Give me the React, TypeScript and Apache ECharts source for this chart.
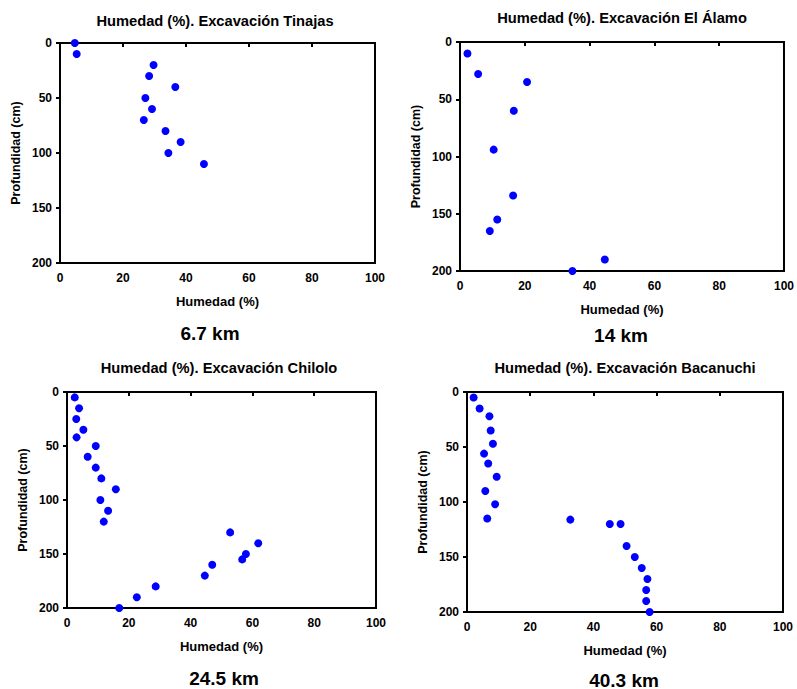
import React, { useEffect, useRef } from "react";
import * as echarts from "echarts";

const titles = [
  "Humedad (%). Excavación Tinajas",
  "Humedad (%). Excavación El Álamo",
  "Humedad (%). Excavación Chilolo",
  "Humedad (%). Excavación Bacanuchi",
];
const distances = ["6.7 km", "14 km", "24.5 km", "40.3 km"];

const tinajasHum = [4.7, 5.3, 29.7, 28.3, 36.6, 27.1, 29.2, 26.6, 33.5, 38.3, 34.4, 45.7];
const tinajasDepth = [0, 10, 20, 30, 40, 50, 60, 70, 80, 90, 100, 110];

const alamoHum = [2.3, 5.6, 20.7, 16.6, 10.4, 16.4, 11.5, 9.2, 44.7, 34.7];
const alamoDepth = [10, 28, 35, 60, 94, 134, 155, 165, 190, 200];

const chiloloHum = [2.5, 3.9, 3.0, 5.3, 3.1, 9.3, 6.7, 9.3, 11.1, 15.8, 10.8, 13.3, 11.9, 52.8, 61.9, 57.9, 56.7, 47.0, 44.6, 28.7, 22.6, 16.9];
const chiloloDepth = [5, 15, 25, 35, 42, 50, 60, 70, 80, 90, 100, 110, 120, 130, 140, 150, 155, 160, 170, 180, 190, 200];

const bacanuchiHum = [2.1, 4.0, 7.1, 7.5, 8.2, 5.4, 6.7, 9.4, 5.8, 8.9, 6.4, 32.7, 45.2, 48.6, 50.5, 53.1, 55.3, 57.1, 56.7, 56.7, 57.8];
const bacanuchiDepth = [5, 15, 22, 35, 47, 56, 65, 77, 90, 102, 115, 116, 120, 120, 140, 150, 160, 170, 180, 190, 200];

const xTicks = [0, 20, 40, 60, 80, 100];
const yTicks = [0, 50, 100, 150, 200];

const seriesHum = [tinajasHum, alamoHum, chiloloHum, bacanuchiHum];
const seriesDepth = [tinajasDepth, alamoDepth, chiloloDepth, bacanuchiDepth];

const FONT = "'Liberation Sans', Arial, Helvetica, sans-serif";

export default function App() {
  const ref = useRef<HTMLDivElement>(null);

  useEffect(() => {
    document.body.style.margin = "0";
    if (!ref.current) return;
    const chart = echarts.init(ref.current, undefined, { renderer: "svg" });

    const grids = [
      { left: 60, top: 43, width: 315, height: 220 },
      { left: 460, top: 42, width: 327, height: 229 },
      { left: 67, top: 392, width: 309, height: 216 },
      { left: 467, top: 392, width: 316, height: 220 },
    ];
    const titlePos = [
      { x: 215, y: 21 },
      { x: 622, y: 18 },
      { x: 219, y: 368 },
      { x: 625, y: 368 },
    ];
    const kmPos = [
      { x: 210, y: 333 },
      { x: 621, y: 335 },
      { x: 224, y: 678 },
      { x: 624, y: 680 },
    ];

    const option: any = {
      animation: false,
      backgroundColor: "#fff",
      textStyle: { fontFamily: FONT },
      grid: grids.map((g) => ({
        ...g,
        show: true,
        borderColor: "#000",
        borderWidth: 2,
        backgroundColor: "transparent",
      })),
      xAxis: grids.map((_, i) => ({
        type: "value",
        gridIndex: i,
        min: xTicks[0],
        max: xTicks[xTicks.length - 1],
        interval: xTicks[1] - xTicks[0],
        name: "Humedad (%)",
        nameLocation: "middle",
        nameGap: 32,
        nameTextStyle: { fontFamily: FONT, fontWeight: "bold", fontSize: 13, color: "#000" },
        axisLine: { show: true, lineStyle: { color: "#000", width: 2 } },
        axisTick: { show: true, length: 4, lineStyle: { color: "#000", width: 2 } },
        axisLabel: { fontFamily: FONT, fontWeight: "bold", fontSize: 12, color: "#000", margin: 9 },
        splitLine: { show: false },
      })),
      yAxis: grids.map((_, i) => ({
        type: "value",
        gridIndex: i,
        inverse: true,
        min: yTicks[0],
        max: yTicks[yTicks.length - 1],
        interval: yTicks[1] - yTicks[0],
        name: "Profundidad (cm)",
        nameLocation: "middle",
        nameGap: 38,
        nameTextStyle: { fontFamily: FONT, fontWeight: "bold", fontSize: 12.5, color: "#000" },
        axisLine: { show: true, lineStyle: { color: "#000", width: 2 } },
        axisTick: { show: true, length: 4, lineStyle: { color: "#000", width: 2 } },
        axisLabel: { fontFamily: FONT, fontWeight: "bold", fontSize: 12, color: "#000", margin: 8 },
        splitLine: { show: false },
      })),
      series: seriesHum.map((hum, i) => ({
        type: "scatter",
        xAxisIndex: i,
        yAxisIndex: i,
        clip: false,
        symbol: "circle",
        symbolSize: 8,
        itemStyle: { color: "#0000FF", opacity: 1 },
        data: hum.map((h, j) => [h, seriesDepth[i][j]]),
      })),
      graphic: [
        ...titles.map((t, i) => ({
          type: "text",
          x: titlePos[i].x,
          y: titlePos[i].y,
          style: {
            text: t,
            fontFamily: FONT,
            fontWeight: "bold",
            fontSize: 14.7,
            fill: "#000",
            textAlign: "center",
            textVerticalAlign: "middle",
          },
        })),
        ...distances.map((t, i) => ({
          type: "text",
          x: kmPos[i].x,
          y: kmPos[i].y,
          style: {
            text: t,
            fontFamily: FONT,
            fontWeight: "bold",
            fontSize: 19,
            fill: "#000",
            textAlign: "center",
            textVerticalAlign: "middle",
          },
        })),
      ],
    };

    chart.setOption(option);
    return () => chart.dispose();
  }, []);

  return <div ref={ref} style={{ width: 797, height: 689, overflow: "hidden" }} />;
}
